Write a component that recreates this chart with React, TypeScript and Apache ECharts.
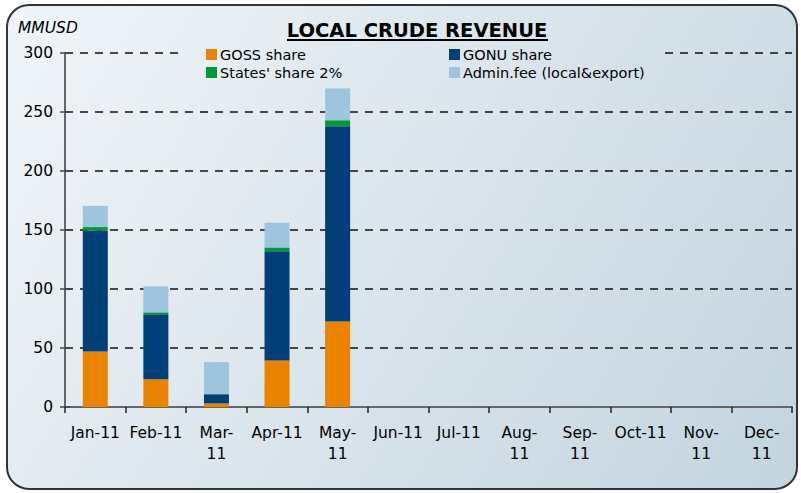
import React, { useEffect, useRef } from "react";
import * as echarts from "echarts";

const months = ["Jan-11", "Feb-11", "Mar-11", "Apr-11", "May-11", "Jun-11", "Jul-11", "Aug-11", "Sep-11", "Oct-11", "Nov-11", "Dec-11"];
const tickLabels = ["Jan-11", "Feb-11", "Mar-\n11", "Apr-11", "May-\n11", "Jun-11", "Jul-11", "Aug-\n11", "Sep-\n11", "Oct-11", "Nov-\n11", "Dec-\n11"];
const gossShare = [47, 23.5, 3, 39.5, 72.5, null, null, null, null, null, null, null];
const gonuShare = [102.5, 55, 7.7, 92.5, 165.5, null, null, null, null, null, null, null];
const statesShare = [3, 1.7, 0.3, 3.2, 5, null, null, null, null, null, null, null];
const adminFee = [18, 22, 27, 21, 27, null, null, null, null, null, null, null];
const seriesNames = ["GOSS share", "GONU share", "States' share 2%", "Admin.fee (local&export)"];
const seriesColors = ["#E98300", "#003F77", "#009A3A", "#9FC4DE"];

const FONT = "DejaVu Sans";

export default function App() {
  const ref = useRef<HTMLDivElement>(null);
  useEffect(() => {
    if (!ref.current) return;
    const chart = echarts.init(ref.current, null, { renderer: "svg" });
    const bgGrad = () =>
      new echarts.graphic.LinearGradient(0, 0, 801, 493, [
        { offset: 0, color: "#f1f5f9" },
        { offset: 1, color: "#c3d4df" },
      ], true);
    const dataSets = [gossShare, gonuShare, statesShare, adminFee];
    chart.setOption({
      animation: false,
      textStyle: { fontFamily: FONT },
      graphic: [
        {
          type: "rect",
          z: -10,
          shape: { x: 7, y: 5, width: 790, height: 484, r: 22 },
          style: { fill: bgGrad(), stroke: "#333", lineWidth: 2 },
        },
        {
          type: "rect",
          z: 1,
          shape: { x: 181, y: 44, width: 484, height: 38 },
          style: { fill: bgGrad() },
        },
        {
          type: "text",
          z: 5,
          x: 417,
          y: 30,
          style: {
            text: "LOCAL CRUDE REVENUE",
            font: `bold 19.5px "${FONT}"`,
            fill: "#000",
            align: "center",
            verticalAlign: "middle",
          },
        },
        {
          type: "line",
          z: 5,
          shape: { x1: 287, y1: 40, x2: 548, y2: 40 },
          style: { stroke: "#000", lineWidth: 2 },
        },
        {
          type: "text",
          z: 5,
          x: 18,
          y: 28,
          style: {
            text: "MMUSD",
            font: `italic 15.5px "${FONT}"`,
            fill: "#000",
            verticalAlign: "middle",
          },
        },
      ],
      legend: [
        {
          orient: "vertical",
          left: 206,
          top: 47,
          padding: 0,
          itemWidth: 11,
          itemHeight: 11,
          itemGap: 3,
          icon: "rect",
          data: [seriesNames[0], seriesNames[2]],
          textStyle: { fontSize: 14.5, color: "#000", padding: [0, 0, 0, -2], fontFamily: FONT },
        },
        {
          orient: "vertical",
          left: 449,
          top: 47,
          padding: 0,
          itemWidth: 11,
          itemHeight: 11,
          itemGap: 3,
          icon: "rect",
          data: [seriesNames[1], seriesNames[3]],
          textStyle: { fontSize: 14.5, color: "#000", padding: [0, 0, 0, -2], fontFamily: FONT },
        },
      ],
      grid: { left: 65, right: 9, top: 53, bottom: 86, containLabel: false },
      xAxis: {
        type: "category",
        data: months,
        axisLine: { lineStyle: { color: "#666", width: 2 } },
        axisTick: { show: true, alignWithLabel: false, length: 6, lineStyle: { color: "#222", width: 1.5 } },
        axisLabel: {
          interval: 0,
          margin: 15,
          fontSize: 15.5,
          lineHeight: 21,
          color: "#000",
          fontFamily: FONT,
          formatter: (_v: string, i: number) => tickLabels[i],
        },
      },
      yAxis: [
        {
          type: "value",
          min: 0,
          max: 300,
          interval: 50,
          axisLine: { show: true, lineStyle: { color: "#666", width: 2 } },
          axisTick: { show: true, length: 5, lineStyle: { color: "#444", width: 1.5 } },
          axisLabel: { margin: 12, fontSize: 15.5, color: "#000", fontFamily: FONT },
          splitLine: { show: true, lineStyle: { color: "#111", width: 1.5, type: [8, 7] } },
        },
        {
          type: "value",
          position: "left",
          min: 0,
          max: 300,
          interval: 50,
          axisLine: { show: false },
          axisTick: { show: true, inside: true, length: 5, lineStyle: { color: "#444", width: 1.5 } },
          axisLabel: { show: false },
          splitLine: { show: false },
        },
      ],
      series: dataSets.map((d, i) => ({
        name: seriesNames[i],
        type: "bar",
        stack: "total",
        barWidth: 25,
        data: d,
        itemStyle: { color: seriesColors[i] },
      })),
    });
    return () => chart.dispose();
  }, []);
  return <div ref={ref} style={{ position: "absolute", left: 0, top: 0, width: 801, height: 493 }} />;
}
